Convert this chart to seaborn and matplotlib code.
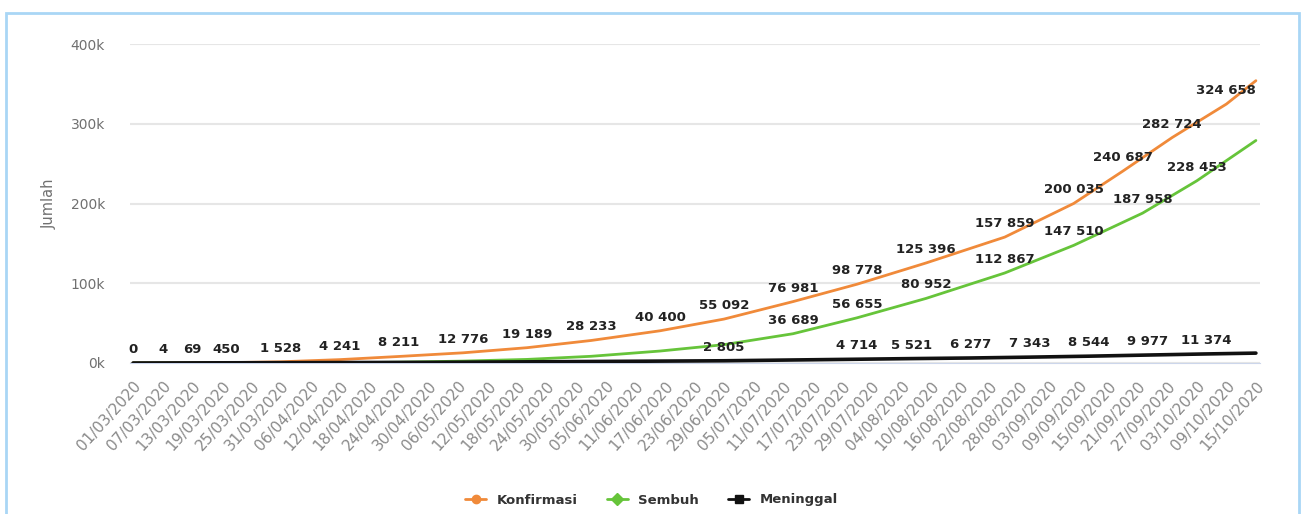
"""
Kumulatif kasus COVID-19: Konfirmasi, Sembuh, Meninggal (01/03/2020 - 15/10/2020)
"""

import matplotlib.pyplot as plt
import matplotlib.patches as mpatches
from matplotlib.lines import Line2D
import pandas as pd
import seaborn as sns

# Konfirmasi (confirmed)
conf_dates = ["01/03/2020", "07/03/2020", "13/03/2020", "20/03/2020", "31/03/2020",
              "12/04/2020", "24/04/2020", "07/05/2020", "20/05/2020", "02/06/2020",
              "16/06/2020", "29/06/2020", "13/07/2020", "26/07/2020", "09/08/2020",
              "25/08/2020", "08/09/2020", "18/09/2020", "28/09/2020", "09/10/2020",
              "15/10/2020"]
conf_values = [0, 4, 69, 450, 1528, 4241, 8211, 12776, 19189, 28233, 40400, 55092,
               76981, 98778, 125396, 157859, 200035, 240687, 282724, 324658, 354000]
conf_labeled = [True] * 20 + [False]

# Sembuh (recovered)
rec_dates = ["01/03/2020", "12/04/2020", "24/04/2020", "07/05/2020", "20/05/2020",
             "02/06/2020", "16/06/2020", "29/06/2020", "13/07/2020", "26/07/2020",
             "09/08/2020", "25/08/2020", "08/09/2020", "22/09/2020", "03/10/2020",
             "15/10/2020"]
rec_values = [0, 300, 1000, 2400, 4500, 8400, 15000, 23000, 36689, 56655, 80952,
              112867, 147510, 187958, 228453, 279000]
rec_labeled = [False] * 8 + [True] * 7 + [False]

# Meninggal (deaths)
death_dates = ["01/03/2020", "01/05/2020", "29/06/2020", "26/07/2020", "06/08/2020",
               "18/08/2020", "30/08/2020", "11/09/2020", "23/09/2020", "05/10/2020",
               "15/10/2020"]
death_values = [0, 800, 2805, 4714, 5521, 6277, 7343, 8544, 9977, 11374, 12400]
death_labeled = [False, False] + [True] * 8 + [False]

series_names = ["Konfirmasi", "Sembuh", "Meninggal"]
series_colors = ["#f08a3a", "#66c43a", "#111111"]
series_markers = ["o", "D", "s"]

frames = []
for name, dates, values, labeled in [
    ("Konfirmasi", conf_dates, conf_values, conf_labeled),
    ("Sembuh", rec_dates, rec_values, rec_labeled),
    ("Meninggal", death_dates, death_values, death_labeled),
]:
    frames.append(pd.DataFrame({
        "Tanggal": pd.to_datetime(dates, format="%d/%m/%Y"),
        "Jumlah": values,
        "Status": name,
        "label": labeled,
    }))
df = pd.concat(frames, ignore_index=True)

sns.set_style("white")
plt.rcParams["font.family"] = ["DejaVu Sans"]

fig = plt.figure(figsize=(13.03, 5.14), dpi=100)
ax = fig.add_axes([130 / 1303, 1 - 363 / 514, (1260 - 130) / 1303, (363 - 44) / 514])

# outer light blue frame
fig.patches.append(mpatches.Rectangle(
    (6 / 1303, -0.05), (1299 - 6) / 1303, 1.05 - 13 / 514,
    transform=fig.transFigure, fill=False, edgecolor="#a9d6f5", linewidth=2))

for name, color in zip(series_names, series_colors):
    sub = df[df["Status"] == name]
    sns.lineplot(data=sub, x="Tanggal", y="Jumlah", color=color,
                 linewidth=2.6 if name == "Meninggal" else 2, ax=ax,
                 zorder=3 if name == "Meninggal" else 2, legend=False)

# data labels
for _, row in df[df["label"]].iterrows():
    ax.annotate(f"{row['Jumlah']:,}".replace(",", " "),
                xy=(row["Tanggal"], row["Jumlah"]), xytext=(0, 7),
                textcoords="offset pixels", ha="center", va="bottom",
                fontsize=9.5, fontweight="bold", color="#222222", zorder=5)

start = pd.Timestamp("2020-03-01")
end = pd.Timestamp("2020-10-15")
ticks = pd.date_range(start, end, freq="6D")
ax.set_xticks(ticks)
ax.set_xticklabels([t.strftime("%d/%m/%Y") for t in ticks], rotation=48,
                   ha="right", rotation_mode="anchor", fontsize=11, color="#8a8a8a")
ax.set_xlim(start - pd.Timedelta(hours=15), end + pd.Timedelta(hours=20))

ax.set_ylim(0, 400000)
ax.set_yticks([0, 100000, 200000, 300000, 400000])
ax.set_yticklabels([f"{int(v / 1000)}k" for v in ax.get_yticks()],
                   fontsize=10, color="#707070")
ax.yaxis.grid(True, color="#e6e6e6", linewidth=1.5)
ax.set_axisbelow(True)

ax.tick_params(axis="x", direction="out", length=7, width=1, color="#ccd6eb", pad=4)
ax.tick_params(axis="y", length=0, pad=18)

for side in ["top", "right", "left"]:
    ax.spines[side].set_visible(False)
ax.spines["bottom"].set_color("#ccd6eb")

ax.set_xlabel("")
ax.set_ylabel("Jumlah", fontsize=10.5, color="#707070", labelpad=10)

handles = [Line2D([0], [0], color=c, marker=m, markersize=6, linewidth=2)
           for c, m in zip(series_colors, series_markers)]
fig.legend(handles, series_names, loc="center", bbox_to_anchor=(0.5, 1 - 500 / 514),
           ncol=3, frameon=False, handlelength=1.6, columnspacing=2.2,
           labelcolor="#333333", prop={"weight": "bold", "size": 9.5})

fig.savefig("out.png", dpi=100, facecolor="white")
